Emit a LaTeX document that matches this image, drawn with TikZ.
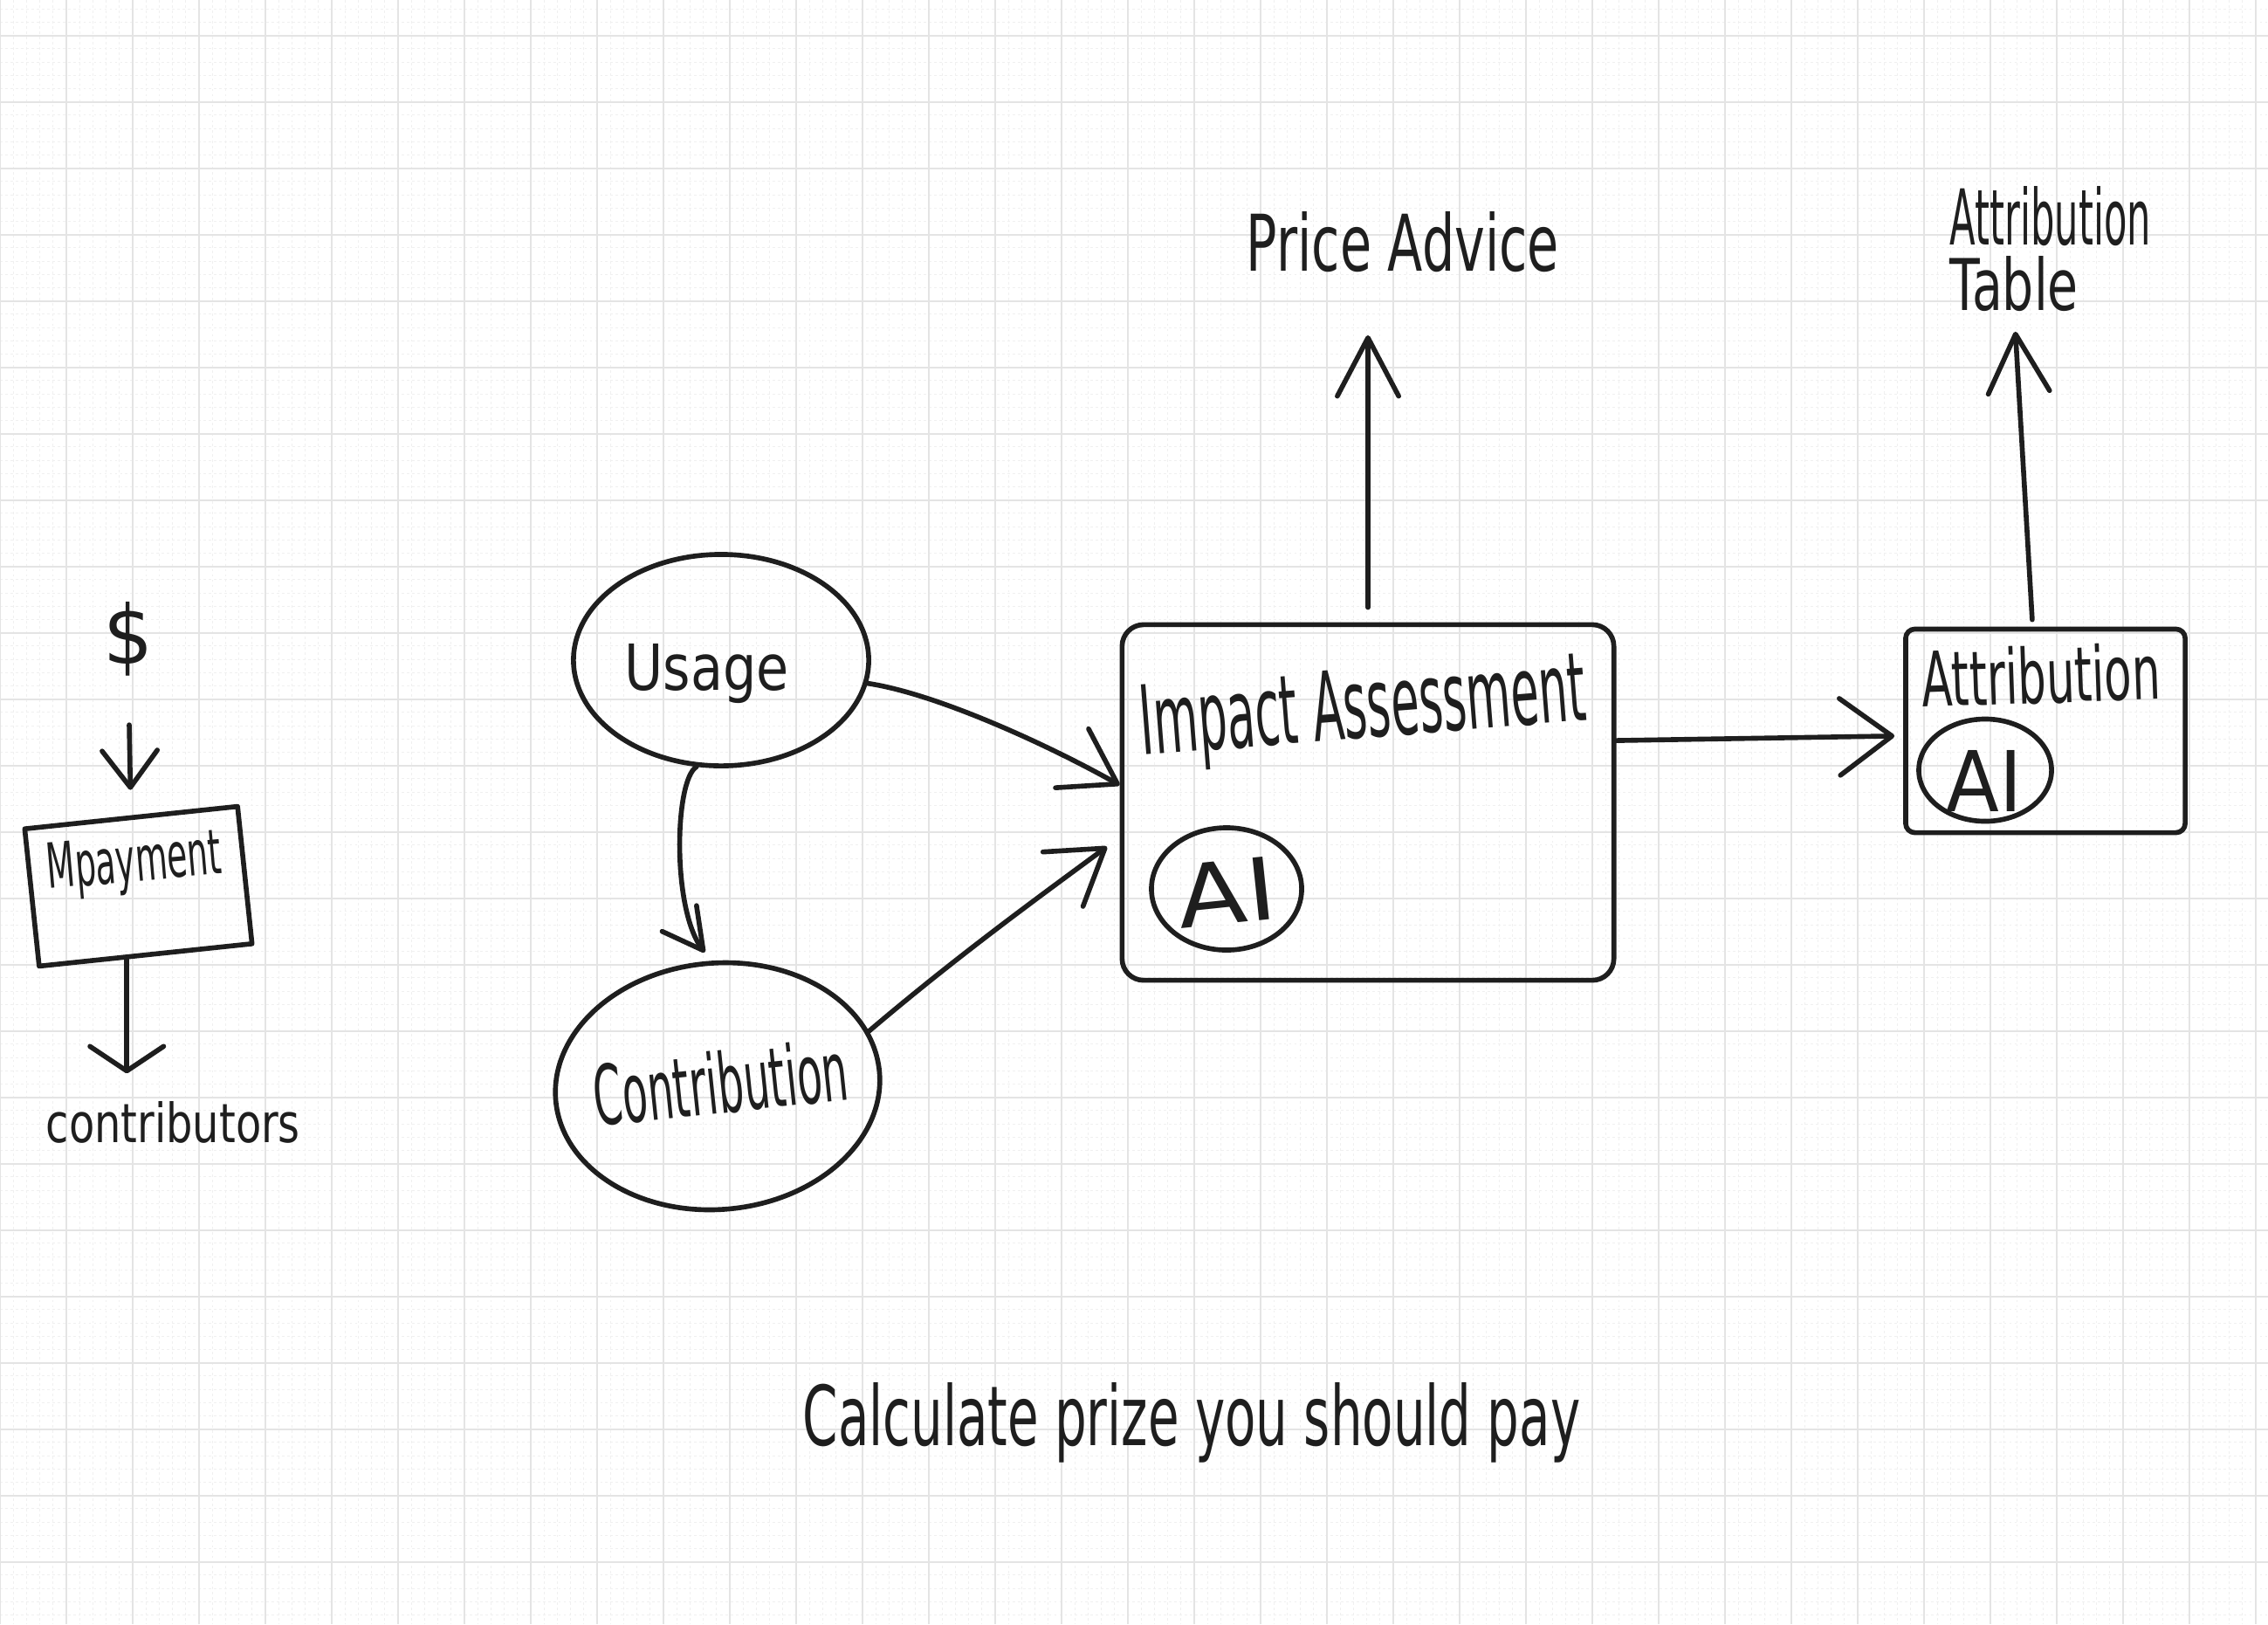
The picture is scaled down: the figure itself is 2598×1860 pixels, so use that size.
\documentclass[tikz,border=0pt]{standalone}
\usepackage{fontspec}
\newfontfamily\hand{DejaVu Sans}
\usetikzlibrary{arrows.meta,shapes.geometric}
\definecolor{ink}{RGB}{30,30,30}
\definecolor{gridmajor}{RGB}{228,228,228}
\definecolor{gridminor}{RGB}{240,240,240}
% handwritten-style label: width and height given in units of 100 px
\newcommand\hw[3]{\resizebox{#1cm}{#2cm}{\hand #3}}
\begin{document}
\begin{tikzpicture}[x=0.01cm,y=-0.01cm,
  ink/.style={draw=ink, line width=1.6pt, line cap=round, line join=round},
  txt/.style={inner sep=0pt, text=ink},
  blob/.style={ink, ellipse, inner sep=0pt},
  frame/.style={ink, rectangle, inner sep=0pt},
  minorline/.style={draw=gridminor, line width=0.3pt, dash pattern=on 0.8pt off 0.9pt},
  majorline/.style={draw=gridmajor, line width=0.55pt},
  barbUp/.style={-{Straight Barb[length=19pt,width=20pt,round]}},
  barbWide/.style={-{Straight Barb[length=17pt,width=25pt,round]}},
  barbMid/.style={-{Straight Barb[length=17pt,width=22pt,round]}},
  barbSmall/.style={-{Straight Barb[length=12pt,width=18pt,round]}},
  barbFlat/.style={-{Straight Barb[length=8pt,width=24pt,round]}},
  barbNarrow/.style={-{Straight Barb[length=13pt,width=14pt,round]}}]

% paper and grid
\fill[white] (0,0) rectangle (2598,1860);
\useasboundingbox (0,0) rectangle (2598,1860);
\begin{scope}
\clip (0,0) rectangle (2598,1860);
\foreach \i in {0,...,171} \draw[minorline] (\i*15.2,0) -- (\i*15.2,1860);
\foreach \j in {-2,...,120} \draw[minorline] (0,40.7+\j*15.2) -- (2598,40.7+\j*15.2);
\foreach \i in {0,...,34} \draw[majorline] (\i*76,0) -- (\i*76,1860);
\foreach \j in {0,...,24} \draw[majorline] (0,40.7+\j*76) -- (2598,40.7+\j*76);
\end{scope}

% shapes
\node[blob, minimum width=3.38cm, minimum height=2.42cm] (usage) at (826,756) {};
\node[blob, minimum width=3.72cm, minimum height=2.82cm, rotate=5] (contribution) at (822,1244) {};
\node[frame, rounded corners=7pt, minimum width=5.63cm, minimum height=4.07cm] (impact) at (1567,919) {};
\node[blob, minimum width=1.72cm, minimum height=1.40cm] (aiImpact) at (1405,1018) {};
\node[frame, rounded corners=3pt, minimum width=3.20cm, minimum height=2.33cm] (attrib) at (2343,837) {};
\node[blob, minimum width=1.52cm, minimum height=1.17cm] (aiAttrib) at (2274,882) {};
\node[frame, rotate=6, minimum width=2.45cm, minimum height=1.58cm] (mpay) at (158.5,1015) {};

% labels
\node[txt] (dollar) at (147,732) {\hw{0.57}{0.71}{\$}};
\node[txt, anchor=base west, rotate=5] (mpayTxt) at (55,1018) {\hw{2.00}{0.52}{Mpayment}};
\node[txt, anchor=base west] (contribs) at (52,1308) {\hw{2.91}{0.47}{contributors}};
\node[txt, anchor=base west] (usageTxt) at (715,790) {\hw{1.88}{0.53}{Usage}};
\node[txt, anchor=base west, rotate=6] (contribTxt) at (683,1290) {\hw{2.92}{0.72}{Contribution}};
\node[txt, anchor=base west, rotate=4.5] (impactTxt) at (1308,865) {\hw{5.12}{0.80}{Impact Assessment}};
\node[txt, rotate=6] (aiImpactTxt) at (1405,1022) {\hw{1.13}{0.72}{AI}};
\node[txt, anchor=base west] (price) at (1427,310) {\hw{3.58}{0.68}{Price Advice}};
\node[txt, anchor=base west, rotate=2] (attribTxt) at (2202,810) {\hw{2.73}{0.66}{Attribution}};
\node[txt] (aiAttribTxt) at (2273,894) {\hw{0.87}{0.70}{AI}};
\node[txt, anchor=base west] (tableHead) at (2233,280) {\hw{2.30}{0.67}{Attribution}};
\node[txt, anchor=base west] (tableTxt) at (2233,355) {\hw{1.47}{0.62}{Table}};
\node[txt, anchor=base west] (calc) at (919,1655) {\hw{8.90}{0.72}{Calculate prize you should pay}};

% connectors
\draw[ink, barbSmall, shorten <=0.55cm, shorten >=0.29cm] (dollar.south) -- (mpay.north);
\draw[ink, barbFlat, shorten >=0.31cm] (mpay.-105) -- (contribs.north -| mpay.-105);
\draw[ink, barbNarrow, shorten >=0.12cm] (usage.-103) .. controls +(-25,15) and +(-45,-60) .. (contribution.88);
\draw[ink, barbMid] (usage.-9) .. controls +(80,12) and +(-80,-45) .. (impact.176);
\draw[ink, barbMid, shorten >=0.18cm] (contribution.15) .. controls +(100,-85) and +(-95,70) .. (impact.188);
\draw[ink, barbUp, shorten <=0.17cm, shorten >=0.72cm] (impact.north) -- (impact.north |- price.south);
\draw[ink, barbWide, shorten >=0.10cm] (impact.14) -- (attrib.182);
\draw[ink, barbUp, shorten <=0.08cm, shorten >=0.23cm] (attrib.97) -- (tableTxt.south);
\end{tikzpicture}
\end{document}
